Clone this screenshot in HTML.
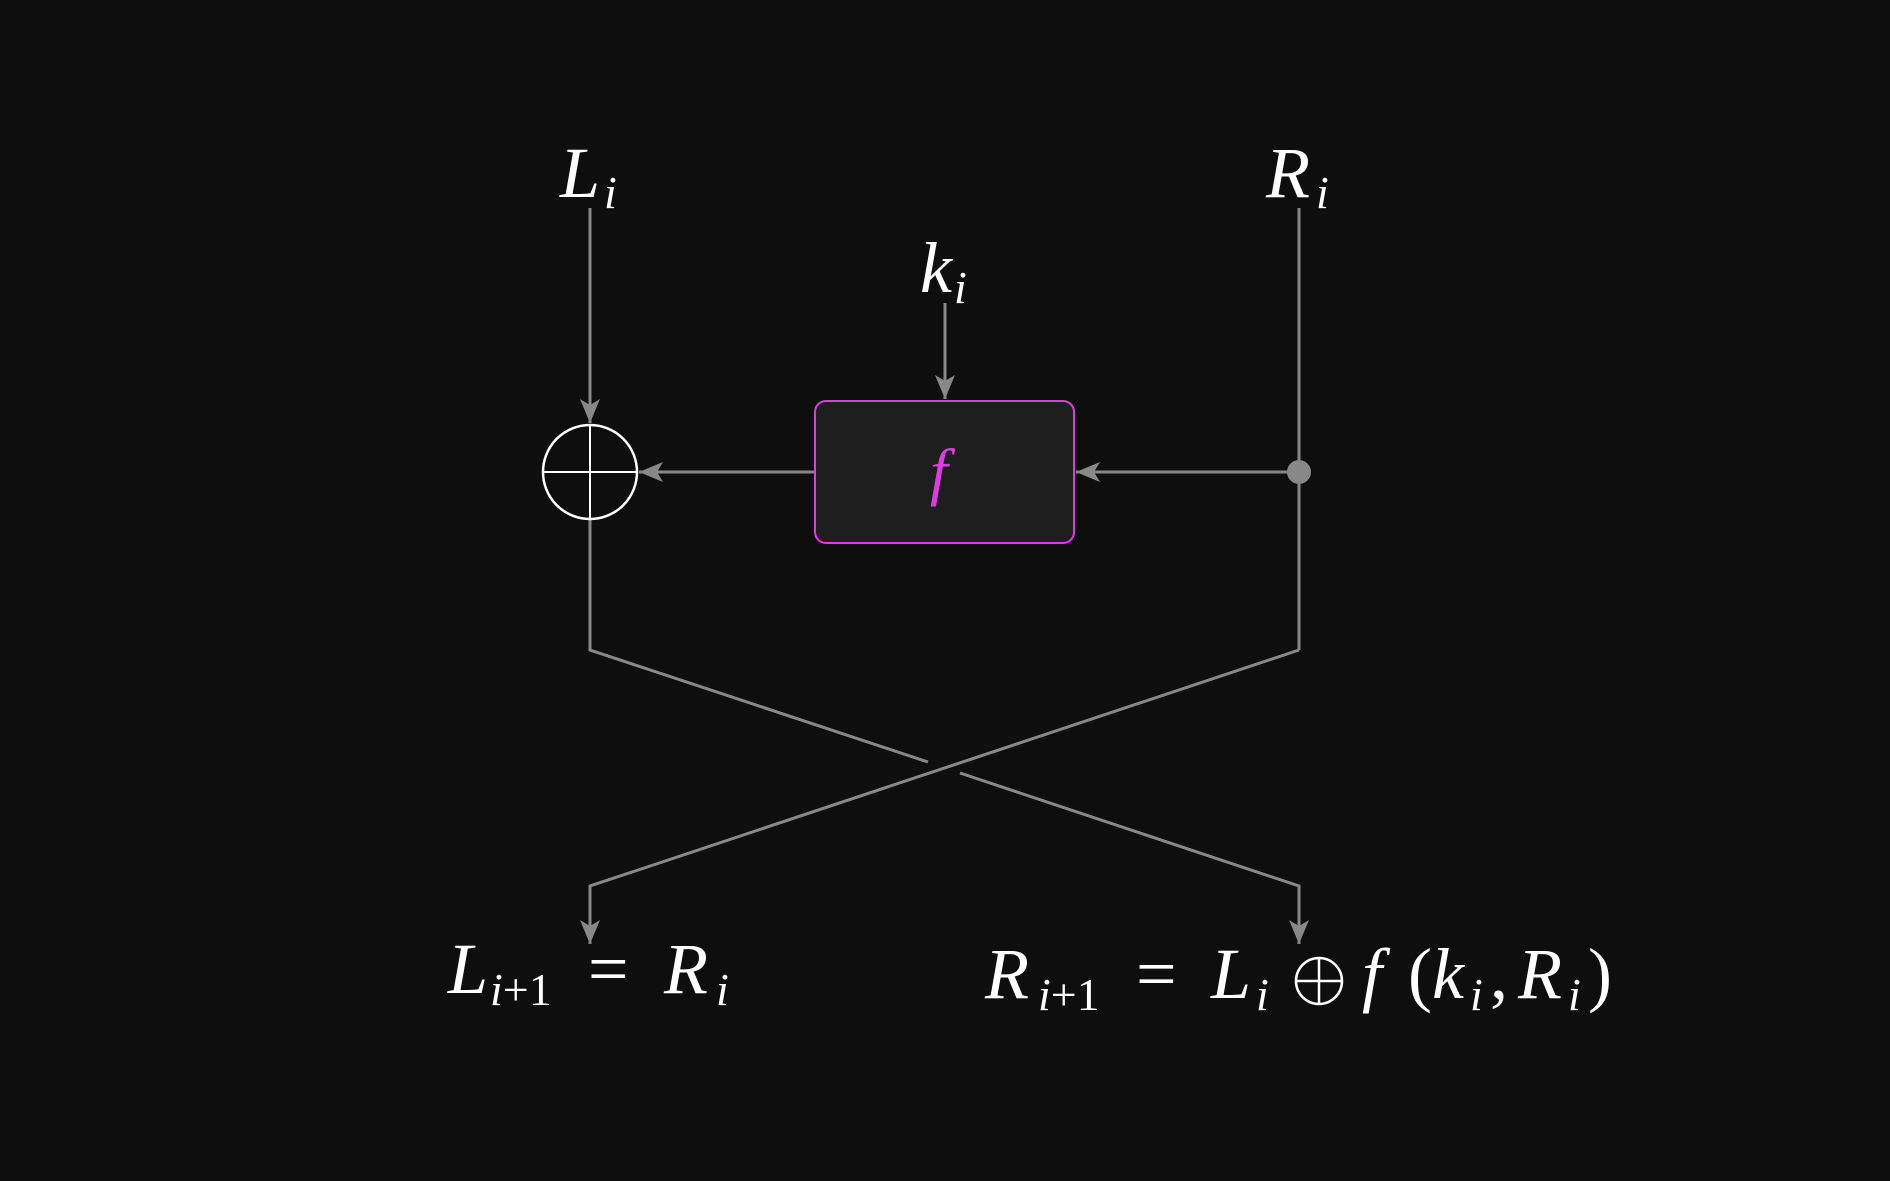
<!DOCTYPE html>
<html><head><meta charset="utf-8"><style>
html,body{margin:0;padding:0;background:#0e0e0e;}
svg{display:block}
text{font-family:"Liberation Serif",serif;font-style:italic;fill:#fff;}
.up{font-style:normal}
</style></head><body>
<svg width="1890" height="1181" viewBox="0 0 1890 1181" xmlns="http://www.w3.org/2000/svg">
<defs>
<marker id="a" viewBox="0 0 24 20" refX="24" refY="10" markerWidth="24" markerHeight="20" markerUnits="userSpaceOnUse" orient="auto">
<path d="M0,0 L24,10 L0,20 L6,10 Z" fill="#888"/>
</marker>
</defs>
<rect width="1890" height="1181" fill="#0e0e0e"/>
<g stroke="#888" stroke-width="3" fill="none">
<line x1="590" y1="208" x2="590" y2="423" marker-end="url(#a)"/>
<line x1="945" y1="303" x2="945" y2="399" marker-end="url(#a)"/>
<line x1="1299" y1="208" x2="1299" y2="650"/>
<line x1="1299" y1="472" x2="1076" y2="472" marker-end="url(#a)"/>
<line x1="815" y1="472" x2="639" y2="472" marker-end="url(#a)"/>
<polyline points="590,519 590,650 928,762"/>
<polyline points="960,773 1299,886 1299,944" marker-end="url(#a)"/>
<polyline points="1299,650 590,886 590,944" marker-end="url(#a)"/>
</g>
<circle cx="1299" cy="472" r="12" fill="#888"/>
<g stroke="#fff" stroke-width="2.5" fill="none">
<circle cx="590" cy="472" r="47"/>
<line x1="543" y1="472" x2="637" y2="472" stroke-width="2"/>
<line x1="590" y1="425" x2="590" y2="519" stroke-width="2"/>
</g>
<rect x="815" y="401" width="259" height="142" rx="11" fill="#1e1e1e" stroke="#d93fe0" stroke-width="2"/>
<text x="930" y="493" font-size="64" style="fill:#d93fe0">f</text>

<text x="560" y="197" font-size="72">L</text><text x="604" y="208" font-size="46">i</text>
<text x="1266" y="197" font-size="72">R</text><text x="1316" y="208" font-size="46">i</text>
<text x="920" y="292" font-size="72">k</text><text x="954" y="303" font-size="46">i</text>

<text x="448" y="993" font-size="72">L</text>
<text x="490" y="1005" font-size="46">i<tspan class="up">+1</tspan></text>
<text x="588" y="993" font-size="72" class="up">=</text>
<text x="664" y="993" font-size="72">R</text><text x="716" y="1005" font-size="46">i</text>

<text x="985" y="998" font-size="72">R</text>
<text x="1038" y="1010" font-size="46">i<tspan class="up">+1</tspan></text>
<text x="1136" y="998" font-size="72" class="up">=</text>
<text x="1211" y="998" font-size="72">L</text><text x="1256" y="1010" font-size="46">i</text>
<g stroke="#fff" stroke-width="2.5" fill="none">
<circle cx="1319" cy="981" r="23"/>
<line x1="1296" y1="981" x2="1342" y2="981"/>
<line x1="1319" y1="958" x2="1319" y2="1004"/>
</g>
<text x="1362" y="998" font-size="72">f</text>
<text x="1408" y="998" font-size="72" class="up">(</text>
<text x="1432" y="998" font-size="72">k</text><text x="1470" y="1010" font-size="46">i</text>
<text x="1490" y="998" font-size="72" class="up">,</text>
<text x="1518" y="998" font-size="72">R</text><text x="1568" y="1010" font-size="46">i</text>
<text x="1588" y="998" font-size="72" class="up">)</text>
</svg>
</body></html>
